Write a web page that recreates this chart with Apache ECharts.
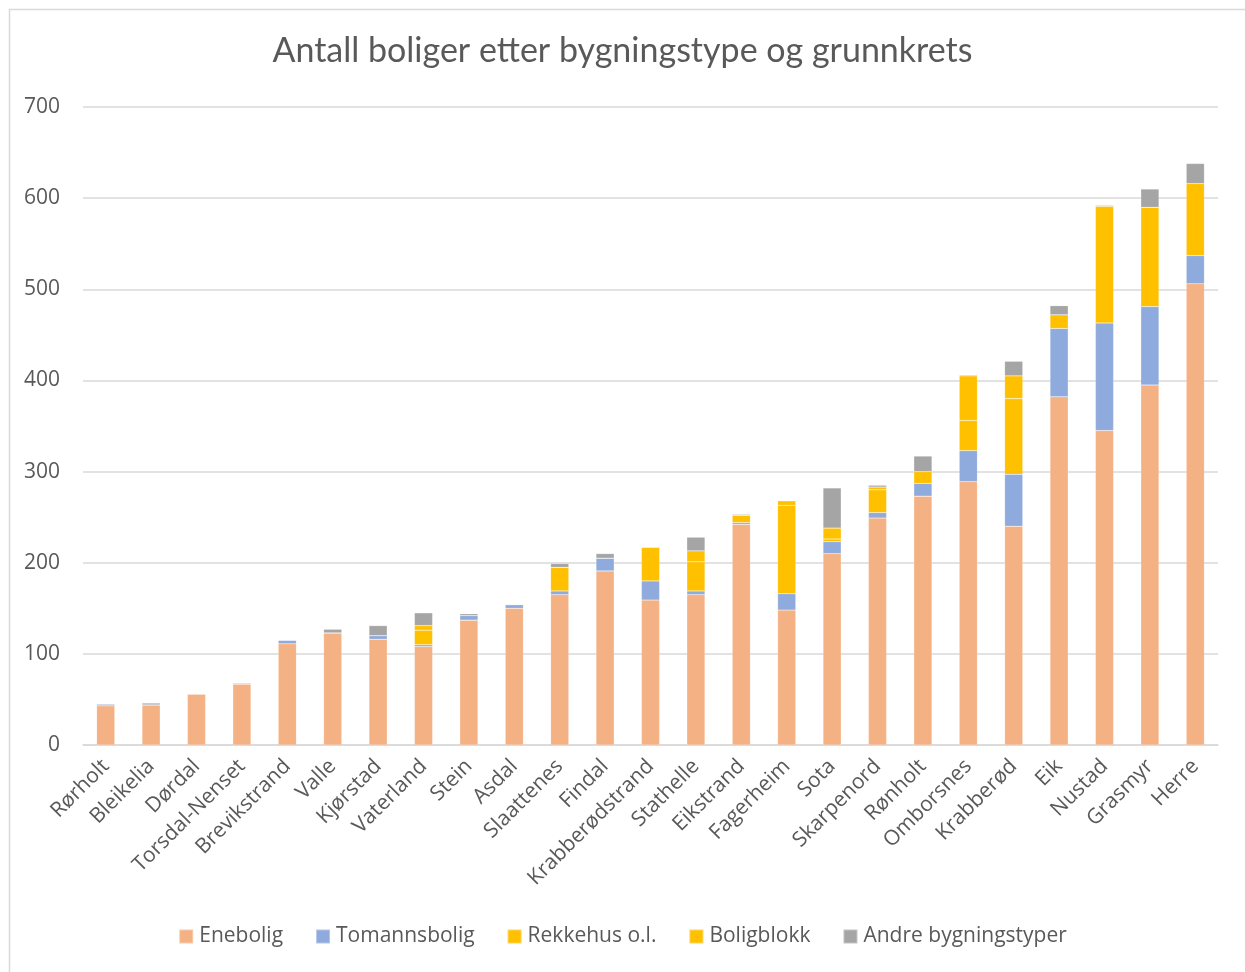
<!DOCTYPE html>
<html>
<head>
<meta charset="utf-8">
<script src="https://cdn.jsdelivr.net/npm/echarts@6/dist/echarts.min.js"></script>
<style>
  html, body { margin: 0; padding: 0; background: #fff; }
  #chart { width: 1245px; height: 972px; }
</style>
</head>
<body>
<div id="chart"></div>
<script>
// Grunnkretser, sortert etter totalt antall boliger
const categories = ['Rørholt', 'Bleikelia', 'Dørdal', 'Torsdal-Nenset', 'Brevikstrand', 'Valle', 'Kjørstad',
  'Vaterland', 'Stein', 'Asdal', 'Slaattenes', 'Findal', 'Krabberødstrand', 'Stathelle', 'Eikstrand',
  'Fagerheim', 'Sota', 'Skarpenord', 'Rønholt', 'Omborsnes', 'Krabberød', 'Eik', 'Nustad', 'Grasmyr', 'Herre'];

const enebolig     = [43, 44, 56, 67, 111, 123, 116, 108, 137, 150, 165, 191, 159, 165, 242, 148, 210, 249, 273, 289, 240, 382, 345, 395, 506];
const tomannsbolig = [2, 0, 0, 0, 4, 0, 4, 2, 5, 4, 4, 14, 21, 4, 2, 18, 13, 6, 14, 34, 57, 75, 118, 86, 31];
const rekkehus     = [0, 0, 0, 0, 0, 0, 0, 16, 0, 0, 26, 0, 37, 32, 8, 97, 3, 25, 13, 33, 83, 15, 128, 109, 79];
const boligblokk   = [0, 0, 0, 0, 0, 0, 0, 5, 0, 0, 0, 0, 0, 12, 0, 5, 12, 3, 0, 49, 25, 0, 0, 0, 0];
const andre        = [0, 2, 0, 1, 0, 4, 11, 14, 2, 0, 4, 5, 0, 15, 1, 0, 44, 2, 17, 1, 16, 10, 1, 20, 22];

const seriesNames = ['Enebolig', 'Tomannsbolig', 'Rekkehus o.l.', 'Boligblokk', 'Andre bygningstyper'];
const yTicks = { min: 0, max: 700, interval: 100 };

const colors = ['#F4B183', '#8FAADC', '#FFC000', '#FFC000', '#A5A5A5'];
const textColor = '#595959';
const labelFont = "'Open Sans', 'Noto Sans', sans-serif";

const chart = echarts.init(document.getElementById('chart'), null, { renderer: 'canvas' });

function barSeries(name, data, color) {
  return {
    name: name,
    type: 'bar',
    stack: 'boliger',
    barWidth: '40%',
    data: data,
    itemStyle: { color: color, borderColor: 'rgba(255,255,255,0.35)', borderWidth: 0.5 },
    emphasis: { disabled: true }
  };
}

chart.setOption({
  animation: false,
  backgroundColor: '#fff',
  color: colors,
  graphic: [{
    type: 'rect',
    left: 7, top: 7,
    shape: { width: 1260, height: 990 },
    style: { fill: 'none', stroke: '#D9D9D9', lineWidth: 1.5 },
    silent: true, z: -1
  }],
  title: {
    text: 'Antall boliger etter bygningstype og grunnkrets',
    left: 'center',
    top: 29,
    textStyle: { fontFamily: "Lato, 'Open Sans', sans-serif", fontSize: 34, fontWeight: 'normal', color: textColor }
  },
  legend: {
    bottom: 20,
    left: 'center',
    itemWidth: 14,
    itemHeight: 14,
    itemGap: 32,
    icon: 'rect',
    data: seriesNames,
    textStyle: { fontFamily: labelFont, fontSize: 21, color: textColor, padding: [0, 0, 0, 1] }
  },
  grid: { left: 83, right: 27, top: 107, bottom: 227, containLabel: false },
  xAxis: {
    type: 'category',
    data: categories,
    axisLine: { lineStyle: { color: '#D9D9D9', width: 1.5 } },
    axisTick: { show: false },
    axisLabel: {
      interval: 0,
      rotate: 45,
      margin: 18,
      fontFamily: labelFont,
      fontSize: 21,
      color: textColor
    }
  },
  yAxis: {
    type: 'value',
    min: yTicks.min,
    max: yTicks.max,
    interval: yTicks.interval,
    axisLine: { show: false },
    axisTick: { show: false },
    splitLine: { lineStyle: { color: '#D9D9D9', width: 1.5 } },
    axisLabel: { margin: 23, fontFamily: labelFont, fontSize: 21, color: textColor }
  },
  series: [
    barSeries(seriesNames[0], enebolig, colors[0]),
    barSeries(seriesNames[1], tomannsbolig, colors[1]),
    barSeries(seriesNames[2], rekkehus, colors[2]),
    barSeries(seriesNames[3], boligblokk, colors[3]),
    barSeries(seriesNames[4], andre, colors[4])
  ]
});
</script>
</body>
</html>
